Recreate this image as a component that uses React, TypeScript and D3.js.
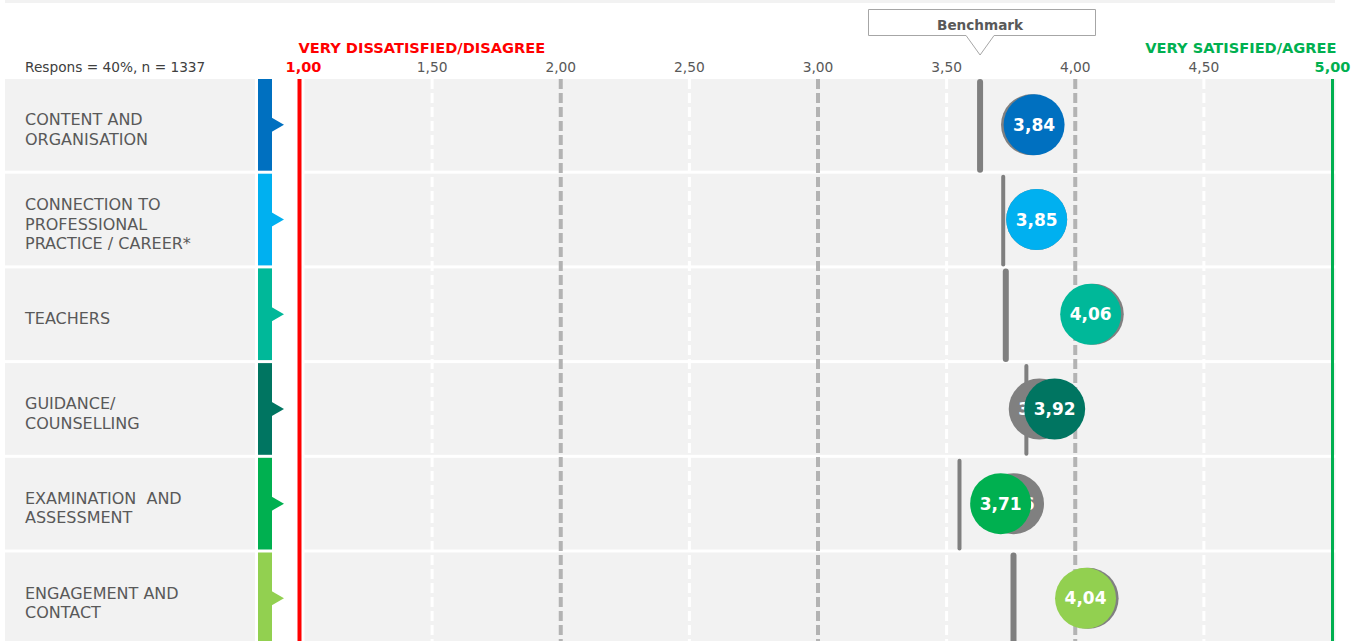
import React, { useEffect, useRef } from 'react';
import * as d3 from 'd3';

// Survey data
const categories = [
    'CONTENT AND\nORGANISATION',
    'CONNECTION TO\nPROFESSIONAL\nPRACTICE / CAREER*',
    'TEACHERS',
    'GUIDANCE/\nCOUNSELLING',
    'EXAMINATION  AND\nASSESSMENT',
    'ENGAGEMENT AND\nCONTACT'
];
const scores = [3.84, 3.85, 4.06, 3.92, 3.71, 4.04];
const previousScores = [3.83, 3.85, 4.07, 3.86, 3.76, 4.05];
const benchmarks = [3.63, 3.72, 3.73, 3.81, 3.55, 3.76];
const tickValues = [1, 1.5, 2, 2.5, 3, 3.5, 4, 4.5, 5];
const responseNote = 'Respons = 40%, n = 1337';

const colors = ['#0070c0', '#00b0f0', '#00b899', '#007561', '#00b050', '#92d050'];
const benchmarkWidths = [6, 4, 6, 4, 4, 6];

const fmt = (v: number) => v.toFixed(2).replace('.', ',');

const App: React.FC = () => {
    const svgRef = useRef<SVGSVGElement>(null);
    const width = 1353;
    const height = 641;

    useEffect(() => {
        const svg = d3.select(svgRef.current);
        svg.selectAll('*').remove();

        const font = 'DejaVu Sans, Verdana, sans-serif';
        const top = 79;
        const step = 94.7;
        const gap = 3;

        const x = d3.scaleLinear().domain([1, 5]).range([303.5, 1332.5]);
        const y = d3
            .scaleBand()
            .domain(categories)
            .range([top, top + step * categories.length - gap])
            .paddingInner(gap / step)
            .paddingOuter(0);

        // top band
        svg.append('rect')
            .attr('x', 5).attr('y', 0)
            .attr('width', 1330).attr('height', 3)
            .attr('fill', '#f2f2f2');

        // row backgrounds
        const rows = svg.selectAll('.row')
            .data(categories)
            .enter()
            .append('g')
            .attr('class', 'row');

        rows.append('rect')
            .attr('x', 5)
            .attr('y', d => y(d) || 0)
            .attr('width', 250)
            .attr('height', y.bandwidth())
            .attr('fill', '#f2f2f2');

        rows.append('rect')
            .attr('x', x(1) + 1)
            .attr('y', d => y(d) || 0)
            .attr('width', x(5) - x(1) + 2)
            .attr('height', y.bandwidth())
            .attr('fill', '#f2f2f2');

        // coloured side bars with pointer
        rows.append('rect')
            .attr('x', 258)
            .attr('y', d => y(d) || 0)
            .attr('width', 14)
            .attr('height', y.bandwidth())
            .attr('fill', (d, i) => colors[i]);

        rows.append('path')
            .attr('d', d => {
                const cy = (y(d) || 0) + y.bandwidth() / 2;
                return `M271,${cy - 7.5}L284,${cy}L271,${cy + 7.5}Z`;
            })
            .attr('fill', (d, i) => colors[i]);

        // row labels
        rows.each(function (d) {
            const lines = d.split('\n');
            const cy = (y(d) || 0) + y.bandwidth() / 2;
            const lh = 19.5;
            const first = cy + 10 - (lines.length - 1) * lh / 2;
            const t = d3.select(this).append('text')
                .attr('x', 25)
                .style('font-family', font)
                .style('font-size', '16px')
                .style('fill', '#595959')
                .style('white-space', 'pre');
            lines.forEach((ln, k) => {
                t.append('tspan').attr('x', 25).attr('y', first + k * lh).text(ln);
            });
        });

        // grid lines
        const bottom = height;
        svg.selectAll('.grid')
            .data(tickValues.filter(v => v > 1 && v < 5))
            .enter()
            .append('line')
            .attr('class', 'grid')
            .attr('x1', d => x(d)).attr('x2', d => x(d))
            .attr('y1', top).attr('y2', bottom)
            .attr('stroke', d => (d % 1 === 0 ? '#b3b3b3' : '#ffffff'))
            .attr('stroke-width', d => (d % 1 === 0 ? 4 : 3))
            .attr('stroke-dasharray', '10,4');

        // end lines
        svg.append('line')
            .attr('x1', x(1) - 4).attr('x2', x(1) - 4)
            .attr('y1', top).attr('y2', bottom)
            .attr('stroke', '#ff0000').attr('stroke-width', 4);
        svg.append('line')
            .attr('x1', x(5)).attr('x2', x(5))
            .attr('y1', top).attr('y2', bottom)
            .attr('stroke', '#00b050').attr('stroke-width', 3);

        // tick labels
        svg.selectAll('.tick-label')
            .data(tickValues)
            .enter()
            .append('text')
            .attr('class', 'tick-label')
            .attr('x', d => x(d))
            .attr('y', 72)
            .attr('text-anchor', 'middle')
            .style('font-family', font)
            .style('font-size', d => (d === 1 || d === 5 ? '14.5px' : '13.8px'))
            .style('font-weight', d => (d === 1 || d === 5 ? 'bold' : 'normal'))
            .style('fill', d => (d === 1 ? '#ff0000' : d === 5 ? '#00b050' : '#595959'))
            .text(d => fmt(d));

        svg.append('text')
            .attr('x', x(1) - 5).attr('y', 53)
            .style('font-family', font).style('font-size', '14.6px').style('font-weight', 'bold')
            .style('fill', '#ff0000')
            .text('VERY DISSATISFIED/DISAGREE');
        svg.append('text')
            .attr('x', x(5) + 4).attr('y', 53)
            .attr('text-anchor', 'end')
            .style('font-family', font).style('font-size', '14.6px').style('font-weight', 'bold')
            .style('fill', '#00b050')
            .text('VERY SATISFIED/AGREE');

        svg.append('text')
            .attr('x', 25).attr('y', 72)
            .style('font-family', font).style('font-size', '13.7px')
            .style('fill', '#404040')
            .text(responseNote);

        // benchmark callout
        const bx = x(benchmarks[0]);
        const callout = svg.append('g');
        callout.append('path')
            .attr('d', `M868.5,9.5H1095.5V35.5H${bx + 14}L${bx},55L${bx - 14},35.5H868.5Z`)
            .attr('fill', '#ffffff')
            .attr('stroke', '#a6a6a6')
            .attr('stroke-width', 1);
        callout.append('text')
            .attr('x', bx).attr('y', 29.5)
            .attr('text-anchor', 'middle')
            .style('font-family', font).style('font-size', '13.6px').style('font-weight', 'bold')
            .style('fill', '#595959')
            .text('Benchmark');

        // benchmark bars
        svg.selectAll('.bench')
            .data(benchmarks)
            .enter()
            .append('line')
            .attr('class', 'bench')
            .attr('x1', d => x(d)).attr('x2', d => x(d))
            .attr('y1', (d, i) => (y(categories[i]) || 0) + 3)
            .attr('y2', (d, i) => (y(categories[i]) || 0) + y.bandwidth() - 1)
            .attr('stroke', '#7f7f7f')
            .attr('stroke-width', (d, i) => benchmarkWidths[i])
            .attr('stroke-linecap', 'round');

        const r = 30.5;
        const cyOf = (i: number) => (y(categories[i]) || 0) + y.bandwidth() / 2;

        // previous score circles (grey)
        const prev = svg.selectAll('.prev')
            .data(previousScores)
            .enter()
            .append('g')
            .attr('class', 'prev');
        prev.append('circle')
            .attr('cx', d => x(d))
            .attr('cy', (d, i) => cyOf(i))
            .attr('r', r)
            .attr('fill', '#808080');
        prev.append('text')
            .attr('x', d => x(d))
            .attr('y', (d, i) => cyOf(i) + 6)
            .attr('text-anchor', 'middle')
            .style('font-family', font).style('font-size', '17px').style('font-weight', 'bold')
            .style('fill', '#ffffff')
            .text(d => fmt(d));

        // current score circles
        const cur = svg.selectAll('.cur')
            .data(scores)
            .enter()
            .append('g')
            .attr('class', 'cur');
        cur.append('circle')
            .attr('cx', d => x(d))
            .attr('cy', (d, i) => cyOf(i))
            .attr('r', r)
            .attr('fill', (d, i) => colors[i]);
        cur.append('text')
            .attr('x', d => x(d))
            .attr('y', (d, i) => cyOf(i) + 6)
            .attr('text-anchor', 'middle')
            .style('font-family', font).style('font-size', '17px').style('font-weight', 'bold')
            .style('fill', '#ffffff')
            .text(d => fmt(d));
    }, []);

    return (
        <svg
            ref={svgRef}
            width={width}
            height={height}
            style={{ position: 'absolute', left: 0, top: 0, background: '#ffffff' }}
        />
    );
};

export default App;
